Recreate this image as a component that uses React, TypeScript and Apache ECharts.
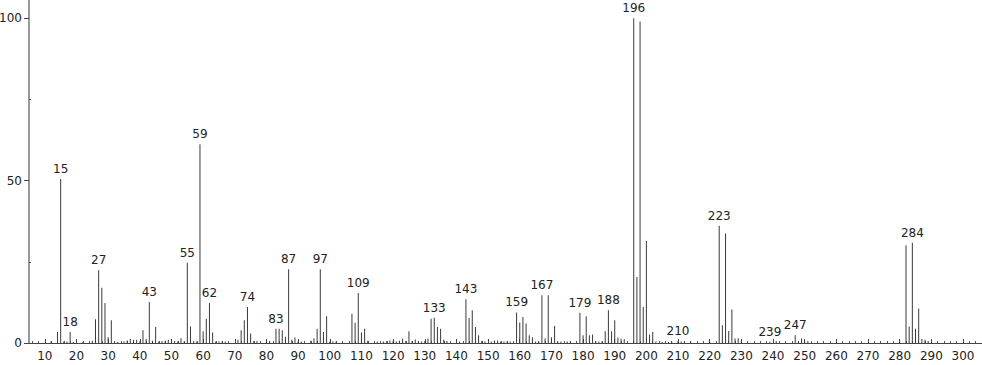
import React, { useEffect, useRef } from "react";
import * as echarts from "echarts";

const mzValues = [
  12, 14, 15, 16, 17, 18, 19, 22, 25, 26, 27, 28, 29, 30, 31, 33, 35, 36, 37, 38, 39, 40,
  41, 42, 43, 44, 45, 46, 47, 48, 49, 50, 51, 52, 53, 54, 55, 56, 57, 58, 59, 60, 61, 62,
  63, 64, 65, 66, 67, 71, 72, 73, 74, 75, 76, 77, 80, 81, 83, 84, 85, 86, 87, 88, 89, 90,
  91, 94, 95, 96, 97, 98, 99, 100, 101, 102, 107, 108, 109, 110, 111, 112, 115, 117, 118,
  119, 120, 121, 122, 123, 124, 125, 126, 127, 128, 129, 130, 131, 132, 133, 134, 135, 136,
  137, 141, 143, 144, 145, 146, 147, 148, 149, 151, 152, 153, 154, 155, 156, 157, 159, 160,
  161, 162, 163, 164, 165, 166, 167, 168, 169, 170, 171, 172, 173, 175, 176, 179, 180, 181,
  182, 183, 184, 185, 186, 187, 188, 189, 190, 191, 192, 193, 196, 197, 198, 199, 200, 201,
  202, 203, 205, 207, 208, 210, 211, 212, 214, 220, 223, 224, 225, 226, 227, 228, 229, 230,
  239, 241, 247, 248, 249, 250, 251, 280, 282, 283, 284, 285, 286, 287, 288, 289,
];

const intensities = [
  0.6, 3.4, 50.5, 0.5, 0.5, 3.4, 0.3, 0.3, 0.7, 7.3, 22.4, 17.0, 12.3, 1.8, 7.0, 0.4, 0.5, 0.8, 1.2, 1.0, 1.0, 0.5,
  3.9, 1.2, 12.6, 0.7, 4.9, 0.5, 0.6, 0.7, 1.0, 1.2, 0.6, 0.5, 1.5, 0.5, 24.7, 5.1, 0.6, 0.5, 61.2, 3.6, 7.5, 12.3,
  3.2, 0.5, 0.5, 0.5, 0.5, 1.0, 3.9, 7.0, 11.1, 2.9, 0.6, 0.6, 0.6, 0.6, 4.4, 4.4, 3.9, 1.9, 22.7, 1.0, 1.7, 0.5,
  0.5, 0.7, 1.5, 4.4, 22.7, 3.4, 8.2, 0.5, 0.5, 0.5, 9.0, 6.2, 15.4, 3.2, 4.4, 0.7, 0.5, 0.5, 0.6,
  0.8, 0.6, 0.5, 0.7, 1.3, 0.6, 3.6, 0.6, 1.1, 0.6, 0.5, 0.6, 1.4, 7.5, 7.8, 4.9, 4.4, 1.0,
  0.6, 0.5, 13.5, 7.7, 10.1, 4.9, 2.4, 0.6, 0.5, 0.5, 0.8, 0.8, 0.5, 0.5, 0.5, 0.5, 9.4, 6.3,
  8.0, 6.0, 2.4, 1.8, 0.5, 0.5, 14.7, 1.4, 14.7, 1.8, 5.2, 0.5, 0.5, 0.5, 0.5, 9.3, 2.4, 8.2,
  2.4, 2.6, 0.5, 0.5, 0.5, 3.6, 10.1, 3.6, 7.0, 1.7, 1.3, 1.2, 100, 20.3, 99.0, 11.1, 31.4, 2.6,
  3.4, 0.5, 0.3, 0.3, 0.5, 0.6, 0.5, 0.5, 0.5, 0.5, 36.1, 5.5, 33.7, 3.7, 10.3, 1.35, 1.5, 0.6,
  0.4, 0.6, 2.4, 0.6, 1.4, 0.6, 0.6, 0.6, 30.1, 5.1, 30.9, 4.4, 10.6, 1.2, 1.0, 0.6,
];

const labeledPeaks = [
  15, 18, 27, 43, 55, 59, 62, 74, 83, 87, 97, 109, 133, 143, 159, 167, 179, 188, 196, 210,
  223, 239, 247, 284,
];

const xMajorTicks = [
  10, 20, 30, 40, 50, 60, 70, 80, 90, 100, 110, 120, 130, 140, 150, 160, 170, 180, 190, 200,
  210, 220, 230, 240, 250, 260, 270, 280, 290, 300,
];
const xMinorTicks = [
  6, 8, 12, 14, 16, 18, 22, 24, 26, 28, 32, 34, 36, 38, 42, 44, 46, 48, 52, 54, 56, 58, 62, 64,
  66, 68, 72, 74, 76, 78, 82, 84, 86, 88, 92, 94, 96, 98, 102, 104, 106, 108, 112, 114, 116,
  118, 122, 124, 126, 128, 132, 134, 136, 138, 142, 144, 146, 148, 152, 154, 156, 158, 162,
  164, 166, 168, 172, 174, 176, 178, 182, 184, 186, 188, 192, 194, 196, 198, 202, 204, 206,
  208, 212, 214, 216, 218, 222, 224, 226, 228, 232, 234, 236, 238, 242, 244, 246, 248, 252,
  254, 256, 258, 262, 264, 266, 268, 272, 274, 276, 278, 282, 284, 286, 288, 292, 294, 296,
  298, 302, 304,
];
const yMajorTicks = [0, 50, 100];
const yMinorTicks = [25, 75];

const FONT = "DejaVu Sans";
const FS = 12;

export default function App() {
  const ref = useRef<HTMLDivElement>(null);

  useEffect(() => {
    if (!ref.current) return;
    const chart = echarts.init(ref.current, undefined, { renderer: "svg" });
    const data = mzValues.map((mz, i) => ({
      value: [mz, intensities[i]],
      label: { show: labeledPeaks.includes(mz) },
    }));
    chart.setOption({
      animation: false,
      backgroundColor: "#ffffff",
      grid: {
        left: 29,
        right: 0,
        top: 0,
        bottom: 22,
        containLabel: false,
        outerBoundsMode: "none",
      },
      xAxis: [
        {
          type: "value",
          min: 5,
          max: 306,
          position: "bottom",
          axisLine: { show: true, onZero: false, lineStyle: { color: "#444", width: 1 } },
          axisTick: {
            show: true,
            inside: true,
            length: 4,
            customValues: xMajorTicks,
            lineStyle: { color: "#444" },
          },
          axisLabel: {
            customValues: xMajorTicks,
            fontSize: FS,
            fontFamily: FONT,
            color: "#222",
            margin: 7,
          },
          splitLine: { show: false },
        },
        {
          type: "value",
          min: 5,
          max: 306,
          position: "bottom",
          axisLine: { show: false, onZero: false },
          axisTick: {
            show: true,
            inside: true,
            length: 2,
            customValues: xMinorTicks,
            lineStyle: { color: "#555" },
          },
          axisLabel: { show: false },
          splitLine: { show: false },
        },
      ],
      yAxis: [
        {
          type: "value",
          min: 0,
          max: 105.6,
          axisLine: { show: true, lineStyle: { color: "#999", width: 2 } },
          axisTick: {
            show: true,
            length: 5,
            customValues: yMajorTicks,
            lineStyle: { color: "#444" },
          },
          axisLabel: {
            customValues: yMajorTicks,
            fontSize: FS,
            fontFamily: FONT,
            color: "#222",
            margin: 7,
          },
          splitLine: { show: false },
        },
        {
          type: "value",
          min: 0,
          max: 105.6,
          position: "left",
          axisLine: { show: false },
          axisTick: {
            show: true,
            inside: true,
            length: 2,
            customValues: yMinorTicks,
            lineStyle: { color: "#555" },
          },
          axisLabel: { show: false },
          splitLine: { show: false },
        },
      ],
      series: [
        {
          type: "bar",
          xAxisIndex: 0,
          yAxisIndex: 0,
          barWidth: 1,
          data,
          itemStyle: { color: "#3a3a3a" },
          label: {
            show: false,
            position: "top",
            distance: 4,
            fontSize: FS,
            fontFamily: FONT,
            color: "#222",
            formatter: (p: any) => String(p.value[0]),
          },
        },
      ],
    });
    return () => chart.dispose();
  }, []);

  return (
    <div
      ref={ref}
      style={{ position: "fixed", left: 0, top: 0, width: 982, height: 365, background: "#fff" }}
    />
  );
}
